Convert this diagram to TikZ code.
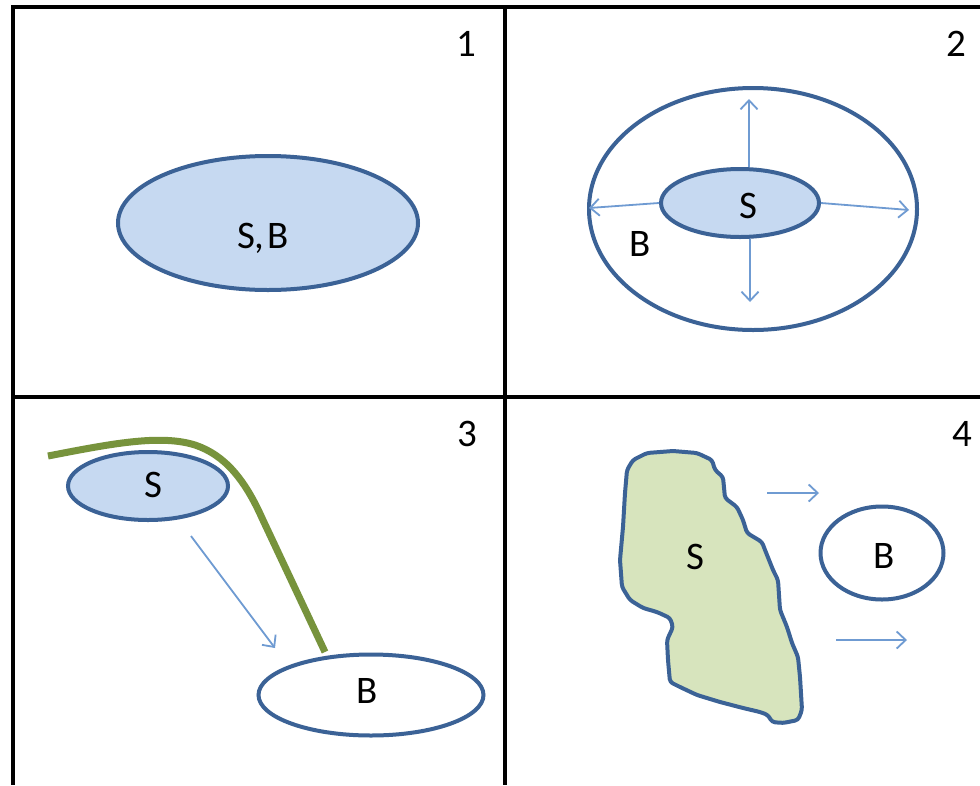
\documentclass[tikz,border=0pt]{standalone}
\usepackage{fontspec}
\setmainfont{Carlito}
\usetikzlibrary{arrows.meta}
\definecolor{sfill}{HTML}{C6D9F1}
\definecolor{sline}{HTML}{3B6296}
\definecolor{arrowc}{HTML}{6F9BD2}
\definecolor{greenc}{HTML}{77933C}
\definecolor{blobfill}{HTML}{D7E4BD}
\tikzset{
  frame/.style={line width=4.5pt, black},
  blueell/.style={ellipse, draw=sline, line width=4pt, fill=sfill, inner sep=0pt},
  whiteell/.style={ellipse, draw=sline, line width=4pt, fill=white, inner sep=0pt},
  lbl/.style={font=\fontsize{39}{42}\selectfont, text=black, inner sep=0pt},
  num/.style={font=\fontsize{39}{42}\selectfont, text=black, inner sep=0pt},
  flow/.style={draw=arrowc, line width=1.8pt, -{Straight Barb[length=9pt,width=17pt,line width=1.8pt]}},
}
\usetikzlibrary{shapes.geometric}
\begin{document}
\begin{tikzpicture}[x=1pt,y=-1pt]
\useasboundingbox[fill=white] (0,0) rectangle (980,785);
% frame
\coordinate (tl) at (13,7);
\coordinate (tr) at (980,7);
\coordinate (bl) at (13,785);
\coordinate (vt) at (505,7);
\coordinate (vb) at (505,785);
\coordinate (hl) at (13,397);
\coordinate (hr) at (980,397);
\draw[frame] (tr) -- (tl) -- (bl);
\draw[frame] (vt) -- (vb);
\draw[frame] (hl) -- (hr);
% numbers
\node[num] (n1) at (466,44) {1};
\node[num] (n2) at (956,44) {2};
\node[num] (n3) at (467,434) {3};
\node[num] (n4) at (962,434) {4};
% panel 1
\node[blueell, minimum width=300pt, minimum height=134pt] (sb) at (268,223) {};
\node[lbl] (sbl) at (263,238) {S,\kern3pt B};
% panel 2
\node[whiteell, minimum width=328pt, minimum height=242pt] (b2) at (753,209) {};
\node[blueell, minimum width=158pt, minimum height=68pt] (s2) at (740,203) {};
\node[lbl] (s2l) at (748,206) {S};
\node[lbl] (b2l) at (640,244) {B};
\coordinate (up2) at (749,99);
\coordinate (dn2) at (750,302);
\coordinate (lf2) at (589,208);
\coordinate (rt2) at (909,210);
\draw[flow] (s2.north -| up2) -- (up2);
\draw[flow] (s2.south -| dn2) -- (dn2);
\draw[flow] (s2.west) -- (lf2);
\draw[flow] (s2.east) -- (rt2);
% panel 3
\node[blueell, minimum width=160pt, minimum height=68pt] (s3) at (148,486) {};
\node[lbl] (s3l) at (153,485) {S};
\node[whiteell, minimum width=225pt, minimum height=81pt] (b3) at (371,695) {};
\node[lbl] (b3l) at (367,691) {B};
\coordinate (g1) at (48,456);
\coordinate (g2) at (325,652);
\draw[greenc, line width=7pt] (g1) .. controls (110,444) and (160,434) .. (195,445)
  .. controls (225,455) and (245,480) .. (262,518)
  -- (g2);
\coordinate (a3s) at (191,536);
\coordinate (a3e) at (275,648);
\draw[flow] (a3s) -- (a3e);
% panel 4
\draw[draw=sline, fill=blobfill, line width=4pt, rounded corners=3pt]
  (633,460) -- (647,453) -- (673,451) -- (697,453) -- (712,460) -- (715,470)
  -- (723,477) -- (725,498) -- (737,507) -- (743,520) -- (747,533) -- (762,542)
  -- (765,550) -- (773,570) -- (778,580) -- (780,610) -- (787,627) -- (792,643)
  -- (798,657) -- (800,677) -- (802,710) -- (798,720) -- (783,723) -- (772,722)
  -- (768,715) -- (760,712) -- (743,708) -- (720,702) -- (697,695) -- (680,687)
  -- (670,682) -- (668,660) -- (667,640) -- (673,627) -- (670,618) -- (657,612)
  -- (643,608) -- (630,600) -- (622,587) -- (620,560) -- (623,527) -- (625,493)
  -- (627,470) -- cycle;
\node[lbl] (s4l) at (695,557) {S};
\node[whiteell, minimum width=123pt, minimum height=93pt] (b4) at (882,553) {};
\node[lbl] (b4l) at (884,556) {B};
\coordinate (a4s) at (767,493);
\coordinate (a4e) at (819,493);
\coordinate (a5s) at (836,640);
\coordinate (a5e) at (907,640);
\draw[flow] (a4s) -- (a4e);
\draw[flow] (a5s) -- (a5e);
\end{tikzpicture}
\end{document}
